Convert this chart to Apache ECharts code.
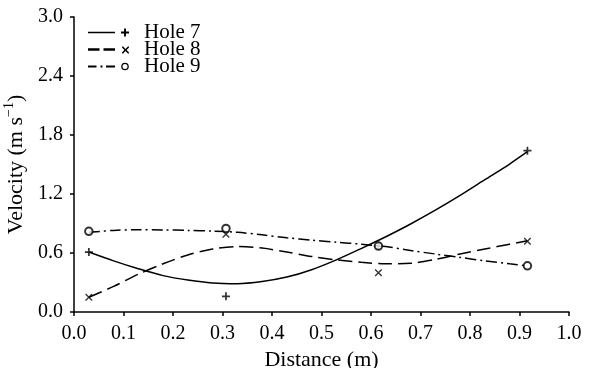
<!DOCTYPE html>
<html><head><meta charset="utf-8">
<script src="https://cdn.jsdelivr.net/npm/echarts@6/dist/echarts.min.js"></script>
<style>html,body{margin:0;padding:0;background:#fff}#c{width:597px;height:368px}</style>
</head><body><div id="c"></div>
<script>
// Measured points (Distance m, Velocity m/s)
const hole7Points = [[0.03,0.61],[0.307,0.16],[0.615,0.67],[0.916,1.64]];
const hole8Points = [[0.03,0.15],[0.307,0.79],[0.615,0.40],[0.916,0.72]];
const hole9Points = [[0.03,0.82],[0.307,0.85],[0.615,0.67],[0.916,0.47]];
// Fitted trend curves
const curveX = [0.03,0.08,0.13,0.18,0.23,0.28,0.33,0.38,0.43,0.48,0.53,0.58,0.63,0.68,0.73,0.78,0.83,0.88,0.916];
const hole7Curve = [0.61,0.52,0.44,0.37,0.325,0.295,0.288,0.31,0.355,0.43,0.53,0.645,0.765,0.895,1.035,1.185,1.345,1.505,1.63];
const hole8Curve = [0.15,0.26,0.385,0.49,0.58,0.64,0.665,0.65,0.61,0.565,0.53,0.505,0.49,0.495,0.535,0.59,0.64,0.69,0.725];
const hole9Curve = [0.81,0.83,0.837,0.835,0.83,0.823,0.81,0.785,0.755,0.73,0.71,0.69,0.665,0.625,0.59,0.555,0.52,0.49,0.47];
const seriesNames = ['Hole 7','Hole 8','Hole 9'];
const xMin = 0, xMax = 1.0, xStep = 0.1;
const yMin = 0, yMax = 3.0, yStep = 0.6;

const pair = ys => curveX.map((x, i) => [x, ys[i]]);

const FONT = 'Liberation Serif';
const plusPath = 'path://M0,3.9 L10,3.9 L10,6.1 L0,6.1 Z M3.9,0 L6.1,0 L6.1,10 L3.9,10 Z';
const xPath = 'path://M0,0 L1.4,0 L5,3.6 L8.6,0 L10,0 L10,1.4 L6.4,5 L10,8.6 L10,10 L8.6,10 L5,6.4 L1.4,10 L0,10 L0,8.6 L3.6,5 L0,1.4 Z';
const icon7 = 'path://M0,3.35 L27,3.35 L27,4.65 L0,4.65 Z M33,3.05 L41,3.05 L41,4.95 L33,4.95 Z M36.05,0 L37.95,0 L37.95,8 L36.05,8 Z';
const icon8 = 'path://M0,2.8 L11.5,2.8 L11.5,5.2 L0,5.2 Z M15.5,2.8 L27,2.8 L27,5.2 L15.5,5.2 Z M34,1 L35.1,1 L37.5,3.4 L39.9,1 L41,1 L41,2.1 L38.6,4.5 L41,6.9 L41,8 L39.9,8 L37.5,5.6 L35.1,8 L34,8 L34,6.9 L36.4,4.5 L34,2.1 Z M0,0 M41,8';
const icon9 = 'path://M0,3.1 L8.5,3.1 L8.5,4.9 L0,4.9 Z M12.5,3.1 L14.5,3.1 L14.5,4.9 L12.5,4.9 Z M18,3.1 L27,3.1 L27,4.9 L18,4.9 Z M40.8,4 A3.8,3.8 0 1,0 33.2,4 A3.8,3.8 0 1,0 40.8,4 Z M39.5,4 A2.5,2.5 0 1,1 34.5,4 A2.5,2.5 0 1,1 39.5,4 Z M0,0 M41,8';

const chart = echarts.init(document.getElementById('c'), null, {renderer:'canvas'});
chart.setOption({
  animation:false,
  backgroundColor:'#fff',
  grid:{left:74,right:28,top:17,bottom:56,containLabel:false,outerBoundsMode:'none'},
  legend:{
    left:88, top:22, orient:'vertical', itemGap:-4, padding:0,
    itemWidth:41, itemHeight:8,
    itemStyle:{color:'#000', borderWidth:0},
    textStyle:{fontFamily:FONT, fontSize:21, color:'#000', padding:[0,0,0,10]},
    data:[{name:seriesNames[0],icon:icon7},{name:seriesNames[1],icon:icon8},{name:seriesNames[2],icon:icon9}]
  },
  xAxis:{
    type:'value', min:xMin, max:xMax, interval:xStep,
    name:'Distance (m)', nameLocation:'middle', nameGap:35,
    nameTextStyle:{fontFamily:FONT, fontSize:22, color:'#000'},
    axisLine:{lineStyle:{color:'#000', width:1.5}},
    axisTick:{show:true, length:4, lineStyle:{color:'#000', width:1.5}},
    axisLabel:{fontFamily:FONT, fontSize:20, color:'#000', margin:12, formatter:v=>v.toFixed(1)},
    splitLine:{show:false}
  },
  yAxis:{
    type:'value', min:yMin, max:yMax, interval:yStep,
    name:'Velocity (m s{sup|−1})', nameLocation:'middle', nameGap:38, nameRotate:90,
    nameTextStyle:{fontFamily:FONT, fontSize:22, color:'#000',
      rich:{sup:{fontFamily:FONT, fontSize:14, color:'#000', verticalAlign:'top', lineHeight:28}}},
    axisLine:{show:true, lineStyle:{color:'#000', width:1.5}},
    axisTick:{show:true, length:4, lineStyle:{color:'#000', width:1.5}},
    axisLabel:{fontFamily:FONT, fontSize:20, color:'#000', margin:11, formatter:v=>v.toFixed(1)},
    splitLine:{show:false}
  },
  series:[
    {name:seriesNames[0], type:'line', data:pair(hole7Curve), smooth:0.3, showSymbol:false, color:'#000',
     lineStyle:{color:'#000', width:1.5, type:'solid'}},
    {name:seriesNames[1], type:'line', data:pair(hole8Curve), smooth:0.3, showSymbol:false, color:'#000',
     lineStyle:{color:'#000', width:1.5, type:[14,6]}},
    {name:seriesNames[2], type:'line', data:pair(hole9Curve), smooth:0.3, showSymbol:false, color:'#000',
     lineStyle:{color:'#000', width:1.5, type:[11,4,2,4]}},
    {name:seriesNames[0], type:'scatter', data:hole7Points, symbol:plusPath, symbolSize:8, itemStyle:{color:'#000'}, z:5},
    {name:seriesNames[1], type:'scatter', data:hole8Points, symbol:xPath, symbolSize:7, itemStyle:{color:'#000'}, z:5},
    {name:seriesNames[2], type:'scatter', data:hole9Points, symbol:'emptyCircle', symbolSize:7.5, itemStyle:{color:'#000', borderColor:'#000', borderWidth:1.4}, z:5}
  ]
});
</script></body></html>
